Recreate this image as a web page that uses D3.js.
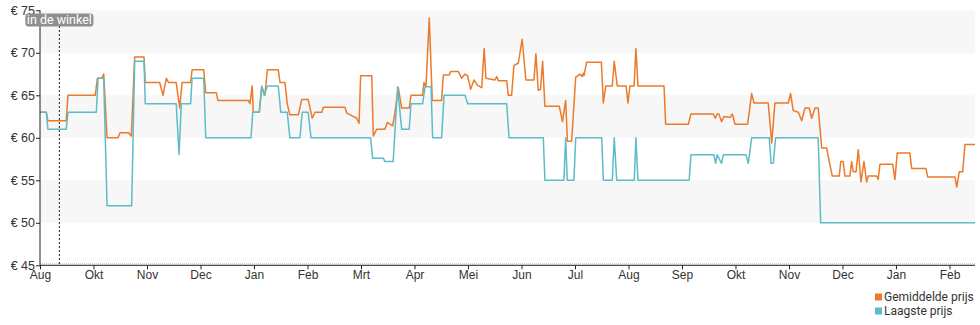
<!DOCTYPE html>
<html>
<head>
<meta charset="utf-8">
<script src="https://cdn.jsdelivr.net/npm/d3@7/dist/d3.min.js"></script>
<style>
  html, body { margin: 0; padding: 0; background: #fff; }
  svg { display: block; font-family: Roboto, "Noto Sans", sans-serif; }
</style>
</head>
<body>
<svg id="chart" width="980" height="325"></svg>
<script>
// Days since start of the period, paired with prices in euro
const avgDays = [0,3.6,4.5,14.9,15.9,31.4,32.6,35.2,36.2,38.1,44.3,45.5,50.4,51.9,53.8,59.1,59.8,68.0,69.9,71.8,73.1,77.4,79.4,80.7,85.6,86.4,93.0,94.2,100.2,101.1,118.4,119.3,120.6,121.2,124.6,126.0,127.8,129.2,135.4,136.4,139.2,140.5,142.0,146.8,148.7,152.4,154.7,156.3,160.1,161.0,173.3,174.3,177.1,180.0,181.3,182.2,188.5,189.4,191.3,196.0,197.3,198.9,200.4,201.7,203.6,205.5,209.8,210.8,217.4,218.2,219.3,221.2,222.9,228.2,229.2,232.6,233.4,237.7,239.6,241.5,243.0,244.7,246.6,248.5,251.0,252.4,253.4,258.5,259.5,260.4,265.2,266.1,268.0,269.3,271.8,274.0,276.1,280.7,281.8,283.1,284.4,285.6,286.9,295.1,296.9,298.7,299.7,302.1,304.4,306.8,308.0,308.7,309.1,310.6,319.0,320.1,321.5,325.2,326.3,328.0,333.0,334.1,335.2,337.6,338.6,339.8,354.6,355.5,368.4,369.9,382.6,383.7,384.8,385.8,387.3,388.6,392.1,393.4,394.9,402.1,404.4,405.7,413.8,415.8,417.6,425.2,426.5,428.0,430.9,432.8,434.7,437.1,438.5,440.4,442.2,444.2,447.0,448.5,450.2,454.2,455.0,456.4,457.4,460.2,461.2,462.1,463.7,465.0,466.5,468.2,469.7,470.6,475.4,476.3,477.3,484.5,485.8,487.1,494.3,495.3,503.4,504.4,519.9,520.9,522.4,524.3,525.6,531.3];
const avgPrice = [63,63,62,62,65,65,67,67,67.5,60,60,60.6,60.6,60.2,69.5,69.5,66.5,66.5,65,67,66.5,66.5,63.5,66.5,66.5,68,68,65.3,65.3,64.4,64.4,64,66.1,63,63,66,65,68,68,66.5,66.5,64,62.7,62.7,64.5,64.5,62.3,63,63,63.6,63.6,62.9,62.6,62.3,61.7,67.3,67.3,60.2,61,61,61.8,61.6,61.4,63,65.9,63.5,63.5,65,65,66.5,66,74.1,64.4,64.4,67.4,67.4,67.8,67.8,67,67.5,67.3,65.7,66.8,66.2,65.9,70.5,67,66.8,67.2,66.7,66.7,65,65,68.5,68.8,71.6,66.8,66.8,69.9,65.6,65.7,69,63.7,63.7,61.9,64.4,59.6,59.6,67.1,67.5,67.2,67.6,67.3,68.9,68.9,64.1,66.1,66.1,69,66.1,66.1,64.1,66.1,66.1,70.5,66.1,66.1,61.6,61.6,62.8,62.8,62.3,62.8,62.8,61.9,62.5,62.4,62.8,61.6,61.6,65.2,64.1,64.1,59.4,64.1,64.1,65.2,63.2,63,62,63.5,63.5,62.3,63.5,63.5,58.8,58.8,57.2,55.5,55.5,57.2,57.2,55.5,55.5,57.2,56,56,58.6,54.8,57.2,54.8,55.5,55.5,55.1,56.9,56.9,55.1,58.2,58.2,56.4,56.4,55.4,55.4,54.2,56,56,59.2,59.2];

const lowDays = [0,3.6,4.5,14.9,15.9,32.0,33.0,36.2,38.1,52.1,53.8,59.1,59.8,77.4,79.0,80.3,85.6,86.4,93.0,94.2,119.9,120.9,124.6,126.0,127.4,129.2,135.4,136.8,140.5,142.0,147.7,149.0,152.4,154.0,187.9,189.0,195.1,196.0,200.7,203.2,205.5,209.8,210.8,217.4,218.8,222.2,223.1,228.2,229.6,241.5,243.0,265.2,266.5,286.0,286.9,297.7,298.7,299.6,303.4,304.4,319.2,320.1,325.2,326.3,327.7,337.7,338.6,339.8,368.9,369.9,383.0,383.9,384.8,387.3,388.3,401.1,402.5,404.4,414.4,415.4,416.7,418.0,442.2,443.6,531.3];
const lowPrice = [63,63,61,61,63,63,67,67,52,52,69,69,64,64,58,64,64,67,67,60,60,63,63,66.1,65,66.1,66.1,63,63,60,60,63,63,60,60,57.6,57.6,57.2,57.2,66,61,61,64,64,66,66,60,60,65,65,64,64,60,60,55,55,60,55,55,60,60,55,55,60,55,55,60,55,55,58,58,57,58,57,58,58,57,60,60,57,57,60,60,50,50];

const monthLabels = ["Aug","Okt","Nov","Dec","Jan","Feb","Mrt","Apr","Mei","Jun","Jul","Aug","Sep","Okt","Nov","Dec","Jan","Feb"];
const daysPerTick = 30.4;
const priceTicks = [45, 50, 55, 60, 65, 70, 75];
const bandRanges = [[70, 75], [60, 65], [50, 55]];
const storeDay = 11.0;
const storeLabel = "in de winkel";
const seriesNames = ["Gemiddelde prijs", "Laagste prijs"];
const seriesColors = ["#ec7a2b", "#5dbcc7"];

const svg = d3.select("#chart");
const plotLeft = 40, plotRight = 975, plotTop = 10.3, plotBottom = 265.3;

const x = d3.scaleLinear().domain([0, 531.3]).range([plotLeft, plotRight]);
const y = d3.scaleLinear().domain([45, 75]).range([plotBottom, plotTop]);

// alternating background bands
svg.append("g").selectAll("rect").data(bandRanges).join("rect")
  .attr("x", plotLeft).attr("width", plotRight - plotLeft)
  .attr("y", d => y(d[1])).attr("height", d => y(d[0]) - y(d[1]))
  .attr("fill", "#f7f7f7");

// faint dotted baseline grid
svg.append("line")
  .attr("x1", plotLeft).attr("x2", plotRight)
  .attr("y1", plotBottom - 1.5).attr("y2", plotBottom - 1.5)
  .attr("stroke", "#bbb").attr("stroke-width", 1).attr("stroke-dasharray", "1,1");

const line = d3.line().x(d => x(d[0])).y(d => y(d[1]));
const avgSeries = avgDays.map((d, i) => [d, avgPrice[i]]);
const lowSeries = lowDays.map((d, i) => [d, lowPrice[i]]);

svg.append("path").datum(avgSeries)
  .attr("d", line).attr("fill", "none")
  .attr("stroke", seriesColors[0]).attr("stroke-width", 1.5).attr("stroke-linejoin", "round");
svg.append("path").datum(lowSeries)
  .attr("d", line).attr("fill", "none")
  .attr("stroke", seriesColors[1]).attr("stroke-width", 1.5).attr("stroke-linejoin", "round");

// y axis
const yAxis = d3.axisLeft(y).tickValues(priceTicks).tickFormat(d => "€ " + d).tickSize(4).tickPadding(1);
const gy = svg.append("g").attr("transform", `translate(${plotLeft},0)`).call(yAxis);
gy.select(".domain").attr("stroke", "#222").attr("d", `M0,${plotTop}V${plotBottom}`);
gy.selectAll(".tick line").attr("stroke", "#222");
gy.selectAll("text").attr("fill", "#333").style("font-size", "12.5px");

// x axis
const xAxis = d3.axisBottom(x)
  .tickValues(monthLabels.map((_, i) => i * daysPerTick))
  .tickFormat((d, i) => monthLabels[i]).tickSize(4).tickPadding(1);
const gx = svg.append("g").attr("transform", `translate(0,${plotBottom})`).call(xAxis);
gx.select(".domain").attr("stroke", "#222").attr("d", `M${plotLeft},0H${plotRight}`);
gx.selectAll(".tick line").attr("stroke", "#222");
gx.selectAll("text").attr("fill", "#333").style("font-size", "12px");

// in-store marker
const sx = x(storeDay);
svg.append("line")
  .attr("x1", sx).attr("x2", sx).attr("y1", 26).attr("y2", plotBottom)
  .attr("stroke", "#222").attr("stroke-width", 1).attr("stroke-dasharray", "2,2");
const lbl = svg.append("g").attr("transform", `translate(${sx},20)`);
const lblText = lbl.append("text").text(storeLabel)
  .attr("text-anchor", "middle").attr("dy", "0.35em")
  .attr("fill", "#fff").style("font-size", "12.5px");
const bb = lblText.node().getBBox();
lbl.insert("rect", "text")
  .attr("x", bb.x - 1.5).attr("y", -6.5).attr("width", bb.width + 3).attr("height", 13)
  .attr("rx", 3).attr("fill", "#8f8f8f");

// legend
const legend = svg.append("g").attr("transform", "translate(875,297)");
const items = legend.selectAll("g").data(seriesNames).join("g")
  .attr("transform", (d, i) => `translate(0,${i * 14})`);
items.append("rect").attr("x", 0).attr("y", -3.5).attr("width", 7).attr("height", 7)
  .attr("fill", (d, i) => seriesColors[i]);
items.append("text").attr("x", 9).attr("dy", "0.35em").text(d => d)
  .attr("fill", "#333").style("font-size", "12px");
</script>
</body>
</html>
